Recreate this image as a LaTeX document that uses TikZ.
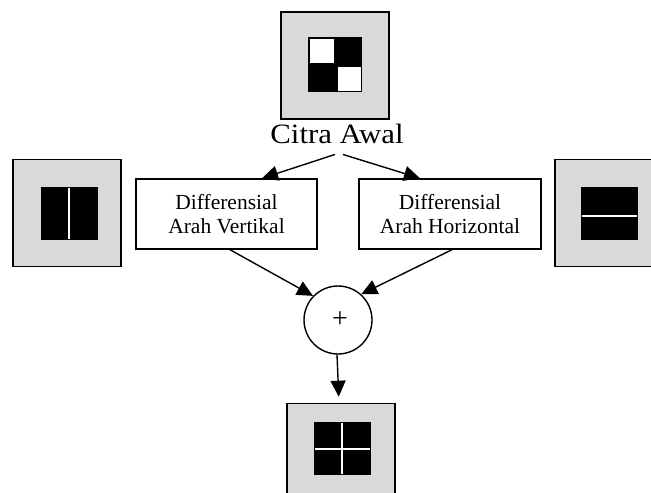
\documentclass[tikz,border=0pt]{standalone}
\usepackage{fontspec}
\setmainfont{Liberation Serif}
\usetikzlibrary{arrows.meta}
\definecolor{panel}{RGB}{217,217,217}
\begin{document}
\begin{tikzpicture}[x=1bp,y=-1bp,
  imgbox/.style={draw=black,fill=panel,line width=1.6bp,minimum width=108bp,minimum height=107bp,inner sep=0pt},
  opbox/.style={draw=black,fill=white,line width=1.4bp,minimum width=181bp,minimum height=70bp,align=center,inner sep=0pt,font=\fontsize{21.5bp}{24.5bp}\selectfont},
  sumnode/.style={draw=black,circle,line width=1.4bp,minimum size=68bp,inner sep=0pt,font=\fontsize{28bp}{28bp}\selectfont},
  flow/.style={line width=1.4bp,-{Triangle[length=16bp,width=15bp]}}]
\path[use as bounding box,clip] (0,0) rectangle (651,493);

% image panels
\node[imgbox] (top) at (335,65.5) {};
\node[imgbox] (left) at (67,213) {};
\node[imgbox] (right) at (609,213) {};
\node[imgbox] (bottom) at (341,457) {};

% top: checker
\fill[black] (308,37) rectangle (362,92);
\fill[white] (310,39) rectangle (334,63);
\fill[white] (338,67) rectangle (361,91);
% left: vertical line
\fill[black] (41,187) rectangle (98,240);
\fill[white] (68.3,188) rectangle (70.3,239);
% right: horizontal line
\fill[black] (581,187) rectangle (638,240);
\fill[white] (582,214.7) rectangle (637,216.7);
% bottom: cross
\fill[black] (314,422) rectangle (371,475);
\fill[white] (340.7,423) rectangle (342.7,474);
\fill[white] (315,448.3) rectangle (370,450.3);

\node[anchor=base,inner sep=0pt,font=\fontsize{28bp}{28bp}\selectfont] (citra) at (337,144) {\scalebox{1.1}[1]{Citra Awal}};

\node[opbox] (vert) at (226.5,214) {Differensial\\Arah Vertikal};
\node[opbox,minimum width=182bp] (horiz) at (450,214) {Differensial\\Arah Horizontal};
\node[sumnode] (sum) at (338,320) {\raisebox{-3bp}{\hspace{4bp}+}};

\draw[flow] ([xshift=-2bp,yshift=-10bp]citra.south) -- ([xshift=35.5bp]vert.north);
\draw[flow] ([xshift=6bp,yshift=-10bp]citra.south) -- ([xshift=-30bp]horiz.north);
\draw[flow] ([xshift=3.5bp]vert.south) -- (sum.136);
\draw[flow] ([xshift=2bp]horiz.south) -- (sum.48);
\draw[flow,shorten >=6bp] ([xshift=-1bp]sum.south) -- ([xshift=-2bp]bottom.north);
\end{tikzpicture}
\end{document}
